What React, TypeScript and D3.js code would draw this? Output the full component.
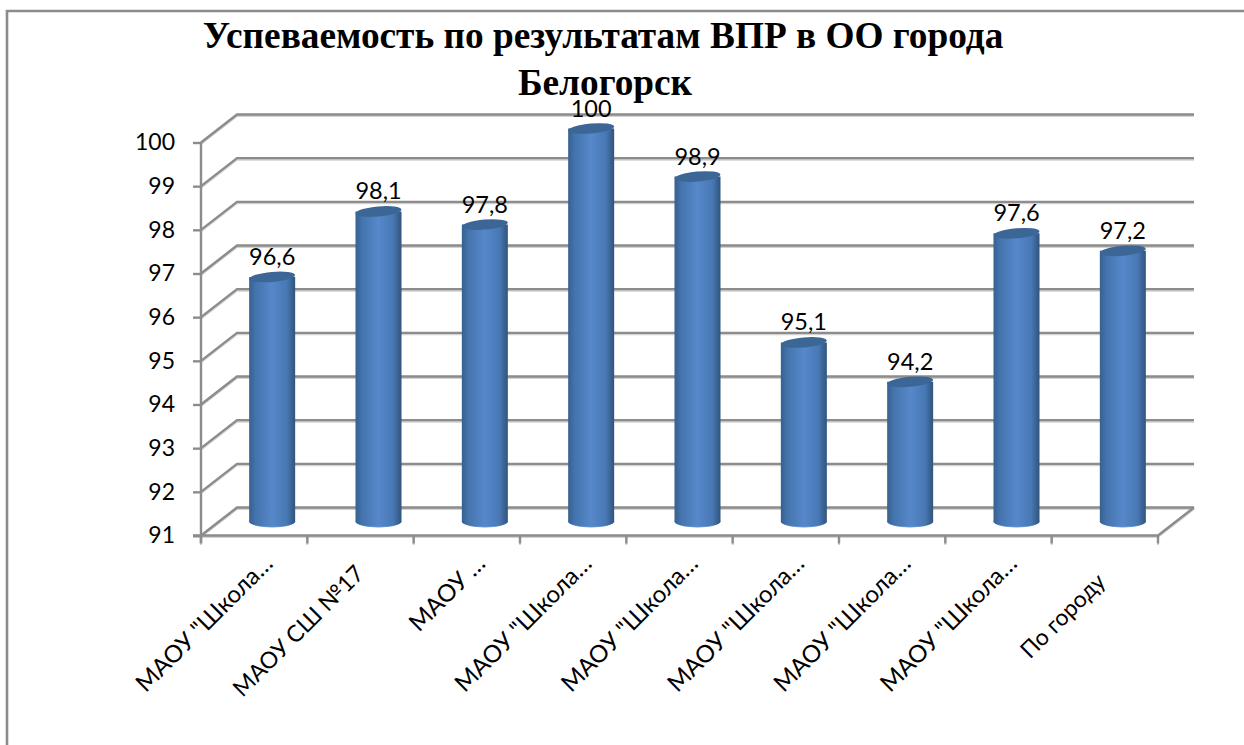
import { useEffect, useRef } from 'react';
import * as d3 from 'd3';

const TITLE_LINES = ['Успеваемость по результатам ВПР в ОО города', 'Белогорск'];
const categories = [
  'МАОУ "Школа…',
  'МАОУ СШ №17',
  'МАОУ …',
  'МАОУ "Школа… ',
  'МАОУ "Школа…  ',
  'МАОУ "Школа…   ',
  'МАОУ "Школа…    ',
  'МАОУ "Школа…     ',
  'По городу',
];
const values = [96.6, 98.1, 97.8, 100, 98.9, 95.1, 94.2, 97.6, 97.2];
const yTicks = [91, 92, 93, 94, 95, 96, 97, 98, 99, 100];

const W = 1244;
const H = 745;
const LABEL_FONT = 'Lato, Carlito, "Noto Sans", sans-serif';

export default function App() {
  const svgRef = useRef<SVGSVGElement>(null);

  useEffect(() => {
    const svg = d3.select(svgRef.current);
    svg.selectAll('*').remove();

    // front plane of the 3D box, and how far the back wall is shifted
    const x0 = 201;
    const x1 = 1158;
    const depthX = 36;
    const depthY = -28;
    const barW = 46;

    const x = d3.scaleBand().domain(categories).range([x0, x1]);
    const y = d3.scaleLinear().domain([91, 100]).range([535.5, 142.5]);

    const defs = svg.append('defs');
    const grad = defs.append('linearGradient').attr('id', 'cyl').attr('x1', 0).attr('x2', 1).attr('y1', 0).attr('y2', 0);
    [[0, '#36608f'], [0.14, '#4474ad'], [0.5, '#5688ca'], [0.82, '#4878b4'], [1, '#30547c']].forEach(([o, c]) => {
      grad.append('stop').attr('offset', o as number).attr('stop-color', c as string);
    });

    // frame, only top and left are on the page
    svg.append('path').attr('d', `M7,${H}V11H${W}`).attr('fill', 'none').attr('stroke', '#8c8c8c').attr('stroke-width', 2.6);

    const grid = svg.append('g').attr('fill', 'none');
    const gridLine = (d: string) => {
      grid.append('path').attr('d', d).attr('transform', 'translate(0,1.5)').attr('stroke', '#d2d2d2').attr('stroke-width', 2);
      grid.append('path').attr('d', d).attr('stroke', '#8c8c8c').attr('stroke-width', 2.4);
    };

    yTicks.forEach(t => {
      gridLine(`M${x0},${y(t)}L${x0 + depthX},${y(t) + depthY}H${x1 + depthX}`);
    });
    gridLine(`M${x0 - 8},${y(91)}H${x1}L${x1 + depthX},${y(91) + depthY}`);
    gridLine(`M${x0},${y(100)}V${y(91) + 8}`);
    d3.range(categories.length + 1).forEach(i => {
      gridLine(`M${x0 + i * x.step()},${y(91)}v8`);
    });

    // y axis, tick marks are drawn as grid above so only the text is kept
    const yAxis = svg.append('g').attr('transform', `translate(${x0},0)`).call(
      d3.axisLeft(y).tickValues(yTicks).tickFormat(d3.format('d')).tickSize(8).tickPadding(18)
    );
    yAxis.select('.domain').remove();
    yAxis.selectAll('line').attr('stroke', '#8c8c8c').attr('stroke-width', 2.4);
    yAxis.selectAll('text').attr('fill', '#000').attr('font-size', 23).attr('font-family', LABEL_FONT);

    // cylinders
    const bars = svg.append('g');
    categories.forEach((c, i) => {
      const cx = x(c)! + x.bandwidth() / 2 + depthX / 2;
      const topY = y(values[i]) + depthY / 2;
      const botY = y(91) + depthY / 2;
      const g = bars.append('g');
      g.append('ellipse').attr('cx', cx).attr('cy', botY).attr('rx', barW / 2).attr('ry', 6).attr('fill', '#6c9bd6');
      g.append('path')
        .attr('d', `M${cx - barW / 2},${topY}V${botY}A${barW / 2},5.2 0 0 0 ${cx + barW / 2},${botY}V${topY}Z`)
        .attr('fill', 'url(#cyl)');
      g.append('ellipse')
        .attr('cx', cx).attr('cy', topY).attr('rx', barW / 2).attr('ry', 5)
        .attr('transform', `rotate(-5 ${cx} ${topY})`)
        .attr('fill', '#3c6696');
      g.append('text')
        .attr('x', cx).attr('y', topY - 12)
        .attr('text-anchor', 'middle')
        .attr('font-size', 23.5).attr('font-family', LABEL_FONT).attr('fill', '#000')
        .text(String(values[i]).replace('.', ','));
    });

    // category labels, the cut ones sit higher and further right than the whole ones
    categories.forEach(c => {
      const cut = c.includes('…');
      const mid = x(c)! + x.bandwidth() / 2;
      const lx = mid + (cut ? 20 : c.startsWith('По') ? 2 : 5);
      const ly = cut ? 565 : c.startsWith('По') ? 583 : 575;
      svg.append('text')
        .attr('transform', `translate(${lx},${ly}) rotate(-45)`)
        .attr('text-anchor', 'end')
        .attr('font-size', cut ? 24 : 23).attr('font-family', LABEL_FONT).attr('fill', '#000')
        .text(c.trim());
    });

    // title
    TITLE_LINES.forEach((line, i) => {
      svg.append('text')
        .attr('x', 603 + i * 2).attr('y', 48 + i * 47)
        .attr('text-anchor', 'middle')
        .attr('font-size', 37.3).attr('font-weight', 'bold')
        .attr('font-family', '"Liberation Serif", serif').attr('fill', '#000')
        .text(line);
    });
  }, []);

  return (
    <svg
      ref={svgRef}
      width={W}
      height={H}
      style={{ position: 'absolute', left: 0, top: 0, display: 'block', background: '#fff' }}
    />
  );
}
